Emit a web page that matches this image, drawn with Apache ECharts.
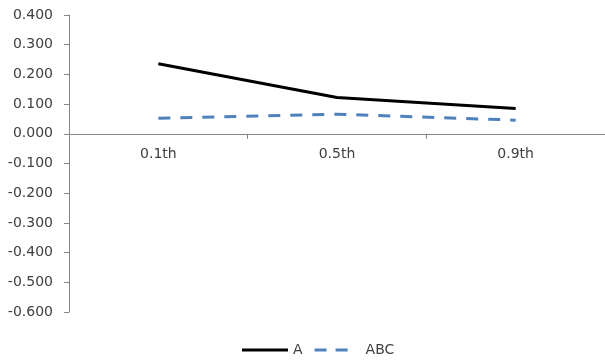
<!DOCTYPE html>
<html><head><meta charset="utf-8">
<script src="https://cdn.jsdelivr.net/npm/echarts@6/dist/echarts.min.js"></script>
<style>html,body{margin:0;padding:0;background:#fff}#c{width:605px;height:360px}</style>
</head><body><div id="c"></div>
<script>
var categories = ['0.1th', '0.5th', '0.9th'];
var seriesA = [0.236, 0.122, 0.085];
var seriesABC = [0.052, 0.066, 0.046];
var yMin = -0.6, yMax = 0.4, yStep = 0.1;

var chart = echarts.init(document.getElementById('c'));
var font = '"DejaVu Sans", sans-serif';
chart.setOption({
  animation: false,
  grid: {left: 69, right: -2, top: 15, bottom: 48, containLabel: false},
  xAxis: {
    type: 'category', data: categories, boundaryGap: true,
    axisLine: {onZero: true, lineStyle: {color: '#868686', width: 1}},
    axisTick: {show: true, alignWithLabel: false, length: 5, lineStyle: {color: '#868686'}},
    axisLabel: {color: '#404040', fontSize: 14, fontFamily: font, margin: -165},
    splitLine: {show: false}
  },
  yAxis: {
    type: 'value', min: yMin, max: yMax, interval: yStep,
    axisLine: {show: true, lineStyle: {color: '#868686'}},
    axisTick: {show: true, length: 5, lineStyle: {color: '#868686'}},
    axisLabel: {color: '#404040', fontSize: 14, fontFamily: font, margin: 16,
      formatter: function (v) { return v.toFixed(3); }},
    splitLine: {show: false}
  },
  legend: {
    top: 338, left: 237, itemWidth: 46, itemHeight: 3, itemGap: 12,
    textStyle: {color: '#404040', fontSize: 14, fontFamily: font},
    data: [
      {name: 'A', icon: 'path://M0,0H46V3H0Z'},
      {name: 'ABC', icon: 'path://M0,0H12V3H0ZM21,0H33V3H21ZM45.9,0H46V3H45.9Z'}
    ]
  },
  series: [
    {name: 'A', type: 'line', data: seriesA, symbol: 'none',
     lineStyle: {color: '#000', width: 3}, itemStyle: {color: '#000'}},
    {name: 'ABC', type: 'line', data: seriesABC, symbol: 'none',
     lineStyle: {color: '#4f81bd', width: 3, type: [12, 10]}, itemStyle: {color: '#4f81bd'}}
  ]
});
</script></body></html>
